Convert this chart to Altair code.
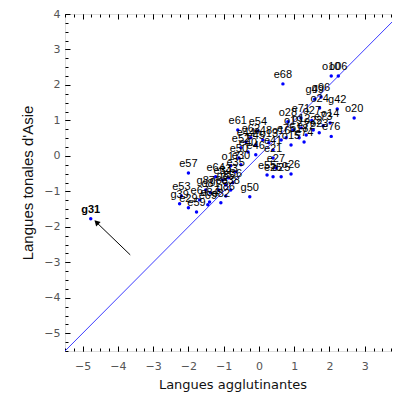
import altair as alt
import pandas as pd

labels = ["g31", "e68", "o10", "o06", "g49", "g96", "o24", "g42", "o20", "o14",
          "e71", "o27", "e73", "o23", "e76", "o22", "e72", "o18", "o12", "o28",
          "o19", "e75", "o16", "o15", "e74", "e61", "e54", "e62", "e44", "e45",
          "e48", "o13", "e52", "e40", "e46", "e41", "e21", "e50", "o17", "e30",
          "e35", "e33", "e34", "e64", "g85", "e36", "g83", "d81", "e84", "e82",
          "g86", "e38", "e69", "e67", "e59", "e29", "g39", "e53", "e57", "g87",
          "e55", "e25", "o25", "o26", "e27", "g50"]
xs = [-4.77, 0.68, 2.05, 2.25, 1.58, 1.76, 1.72, 2.22, 2.70, 2.02,
      1.19, 1.50, 1.82, 1.71, 2.05, 1.54, 1.34, 1.14, 1.20, 0.82,
      0.97, 0.77, 0.63, 0.91, 1.28, -0.60, -0.03, -0.23, -0.37, -0.09,
      0.11, 0.28, -0.51, -0.31, -0.09, 0.40, 0.40, -0.57, -0.80, -0.51,
      -0.66, -0.86, -1.03, -1.23, -0.94, -0.74, -1.14, -1.37, -1.40, -1.08,
      -0.94, -0.80, -1.45, -1.68, -1.77, -2.00, -2.25, -2.20, -2.00, -1.51,
      0.23, 0.40, 0.63, 0.91, 0.48, -0.26]
ys = [-1.77, 2.03, 2.25, 2.25, 1.60, 1.66, 1.35, 1.32, 1.07, 0.93,
      1.07, 1.00, 0.85, 0.65, 0.55, 0.73, 0.59, 0.51, 0.79, 0.96,
      0.73, 0.51, 0.45, 0.31, 0.39, 0.73, 0.70, 0.51, 0.39, 0.31,
      0.45, 0.37, 0.23, 0.11, 0.03, 0.17, -0.06, -0.06, -0.28, -0.25,
      -0.45, -0.62, -0.68, -0.59, -0.82, -0.76, -0.96, -1.04, -1.30, -1.32,
      -1.13, -0.96, -1.38, -1.24, -1.58, -1.46, -1.35, -1.13, -0.48, -0.96,
      -0.54, -0.59, -0.59, -0.51, -0.34, -1.15]

highlighted = ["g31"]

diag_x = [-5.5, 4.0]
diag_y = [-5.5, 4.0]

arrow_tail = [-3.65, -2.79]
arrow_head = [-4.59, -1.89]

major_ticks = [-5, -4, -3, -2, -1, 0, 1, 2, 3, 4]
minor_ticks = [-5.5 + 0.25 * i for i in range(39)]

df = pd.DataFrame({"label": labels, "x": xs, "y": ys})
df_norm = df[~df["label"].isin(highlighted)]
df_bold = df[df["label"].isin(highlighted)]
diag = pd.DataFrame({"x": diag_x, "y": diag_y})
arrow = pd.DataFrame({"x": [arrow_tail[0]], "y": [arrow_tail[1]],
                      "x2": [arrow_head[0]], "y2": [arrow_head[1]]})

dom = [-5.5, 4]
xs_ = alt.Scale(domain=dom, nice=False, zero=False)
ys_ = alt.Scale(domain=dom, nice=False, zero=False)

x_main = alt.Axis(orient="bottom", values=[-5, -4, -3, -2, -1, 0, 1, 2, 3], ticks=False,
                  domain=False, grid=False,
                  labelFont="DejaVu Sans", labelFontSize=11, labelColor="#555555",
                  labelPadding=9, title="Langues agglutinantes", titleFont="DejaVu Sans",
                  titleFontSize=13, titleFontWeight="normal", titleColor="#111111",
                  titlePadding=7)
y_main = alt.Axis(orient="left", values=major_ticks, ticks=False, domain=False, grid=False,
                  labelFont="DejaVu Sans", labelFontSize=11, labelColor="#555555",
                  labelPadding=5, title="Langues tonales d'Asie", titleFont="Liberation Sans",
                  titleFontSize=15, titleFontWeight="normal", titleColor="#111111",
                  titlePadding=8)


def tick_axis(orient, values, size):
    return alt.Axis(orient=orient, values=values, tickSize=size, offset=-size,
                    labels=False, domain=False, grid=False, title="",
                    tickColor="#000000", tickWidth=1)


points = alt.Chart(df).mark_circle(size=12, color="#0000ff", opacity=1).encode(
    x=alt.X("x:Q", scale=xs_, axis=x_main),
    y=alt.Y("y:Q", scale=ys_, axis=y_main),
)

texts = alt.Chart(df_norm).mark_text(font="Liberation Sans", fontSize=11, dy=-9,
                                     color="#000000").encode(
    x=alt.X("x:Q", scale=xs_, axis=None),
    y=alt.Y("y:Q", scale=ys_, axis=None),
    text="label:N",
)
texts_bold = alt.Chart(df_bold).mark_text(font="Liberation Sans", fontSize=11, dy=-9,
                                          fontWeight="bold", color="#000000").encode(
    x=alt.X("x:Q", scale=xs_, axis=None),
    y=alt.Y("y:Q", scale=ys_, axis=None),
    text="label:N",
)

line = alt.Chart(diag).mark_line(color="#3c3cff", strokeWidth=1).encode(
    x=alt.X("x:Q", scale=xs_, axis=None),
    y=alt.Y("y:Q", scale=ys_, axis=None),
)

arrow_line = alt.Chart(arrow).mark_rule(color="#000000", strokeWidth=1).encode(
    x=alt.X("x:Q", scale=xs_, axis=None), y=alt.Y("y:Q", scale=ys_, axis=None),
    x2="x2:Q", y2="y2:Q"
)
arrow_headmark = alt.Chart(arrow).mark_point(shape="triangle", filled=True, color="#000000",
                                             size=40, angle=315, opacity=1).encode(
    x=alt.X("x2:Q", scale=xs_, axis=None), y=alt.Y("y2:Q", scale=ys_, axis=None)
)


def tick_layer(xo, yo, values, size):
    return alt.Chart(df).mark_point(opacity=0).encode(
        x=alt.X("x:Q", scale=xs_, axis=tick_axis(xo, values, size)),
        y=alt.Y("y:Q", scale=ys_, axis=tick_axis(yo, values, size)),
    )


chart = alt.layer(
    line, points, texts, texts_bold, arrow_line, arrow_headmark,
    tick_layer("bottom", "left", minor_ticks, 3),
    tick_layer("bottom", "left", major_ticks, 5),
    tick_layer("top", "right", minor_ticks, 3),
    tick_layer("top", "right", major_ticks, 5),
).resolve_axis(x="independent", y="independent").properties(
    width=335, height=337,
    autosize=alt.AutoSizeParams(type="none"),
    padding={"left": 57, "top": 6, "right": -8, "bottom": 41},
).configure_view(stroke="#000000", strokeWidth=1).configure(background="white")

chart.save("out.html", embed_options={"renderer": "svg", "actions": False})
